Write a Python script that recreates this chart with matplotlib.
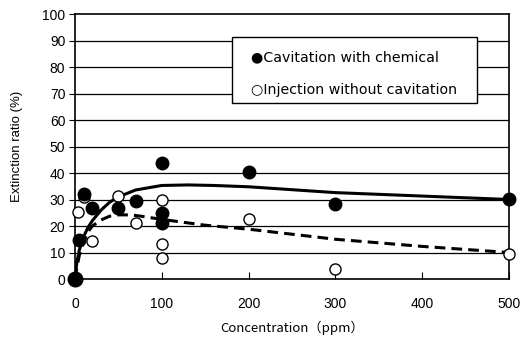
import matplotlib.pyplot as plt
from matplotlib.patches import Rectangle

plt.rcParams['font.family'] = ['Liberation Sans', 'DejaVu Sans']

# measured points
chem_x = [0, 5, 10, 20, 50, 70, 100, 100, 100, 200, 300, 500]
chem_y = [0, 14.7, 32.2, 26.8, 26.8, 29.6, 43.8, 25.0, 21.0, 40.3, 28.4, 30.1]
inj_x = [0, 3, 10, 20, 50, 70, 100, 100, 100, 200, 300, 500]
inj_y = [0, 25.2, 31.0, 14.5, 31.3, 21.3, 29.8, 13.1, 8.0, 22.6, 3.8, 9.3]

# fitted curves
fit_chem_x = [0, 2, 5, 10, 15, 20, 30, 40, 50, 70, 100, 130, 160, 200, 300, 400, 500]
fit_chem_y = [0, 6, 11, 16, 19.5, 22, 26, 29, 31, 33.6, 35.3, 35.5, 35.3, 34.8, 32.6, 31.3, 30]
fit_inj_x = [0, 2, 5, 10, 15, 20, 30, 40, 50, 65, 80, 100, 150, 200, 300, 400, 500]
fit_inj_y = [0, 4, 9, 14, 17.8, 20, 22.3, 23.7, 24.2, 24.2, 23.5, 22.5, 20.3, 18.8, 15, 12.3, 10]

xticks = [0, 100, 200, 300, 400, 500]
yticks = list(range(0, 101, 10))

fig = plt.figure(figsize=(5.23, 3.40), dpi=100)
ax = fig.add_axes([0.1434, 0.1794, 0.8298, 0.7794])

for yv in yticks[1:-1]:
    ax.axhline(yv, color='black', lw=0.9, zorder=1)

ax.plot(fit_chem_x, fit_chem_y, color='black', lw=2.2, zorder=2)
ax.plot(fit_inj_x, fit_inj_y, color='black', lw=2.2, ls=(0, (3.5, 2)), zorder=2)

ax.plot(inj_x, inj_y, 'o', ms=8, mfc='white', mec='black', mew=1.0, zorder=3, clip_on=False)
ax.plot(chem_x, chem_y, 'o', ms=9, mfc='black', mec='black', zorder=4, clip_on=False)
ax.plot(chem_x[:1], chem_y[:1], 'o', ms=10.5, mfc='black', mec='black', zorder=4, clip_on=False)

ax.set_xlim(0, 500)
ax.set_ylim(0, 100)
ax.set_xticks(xticks)
ax.set_yticks(yticks)
ax.tick_params(axis='x', direction='in', length=5, labelsize=10, pad=13)
ax.tick_params(axis='y', direction='out', length=4, labelsize=10, pad=3)
for s in ax.spines.values():
    s.set_linewidth(1.2)

ax.set_xlabel('Concentration（ppm）', fontsize=9.5, labelpad=7,
              family=['Noto Sans CJK JP', 'DejaVu Sans'])
ax.set_ylabel('Extinction ratio (%)', fontsize=9.5, labelpad=14)

# legend box drawn as text
ax.add_patch(Rectangle((0.362, 0.664), 0.564, 0.249, transform=ax.transAxes,
                       facecolor='white', edgecolor='black', lw=1.0, zorder=5))
ax.text(0.405, 0.838, '●Cavitation with chemical', transform=ax.transAxes,
        fontsize=10.2, va='center', ha='left', zorder=6, family=['DejaVu Sans'])
ax.text(0.405, 0.713, '○Injection without cavitation', transform=ax.transAxes,
        fontsize=10.2, va='center', ha='left', zorder=6, family=['DejaVu Sans'])

fig.savefig('out.png', dpi=100)
